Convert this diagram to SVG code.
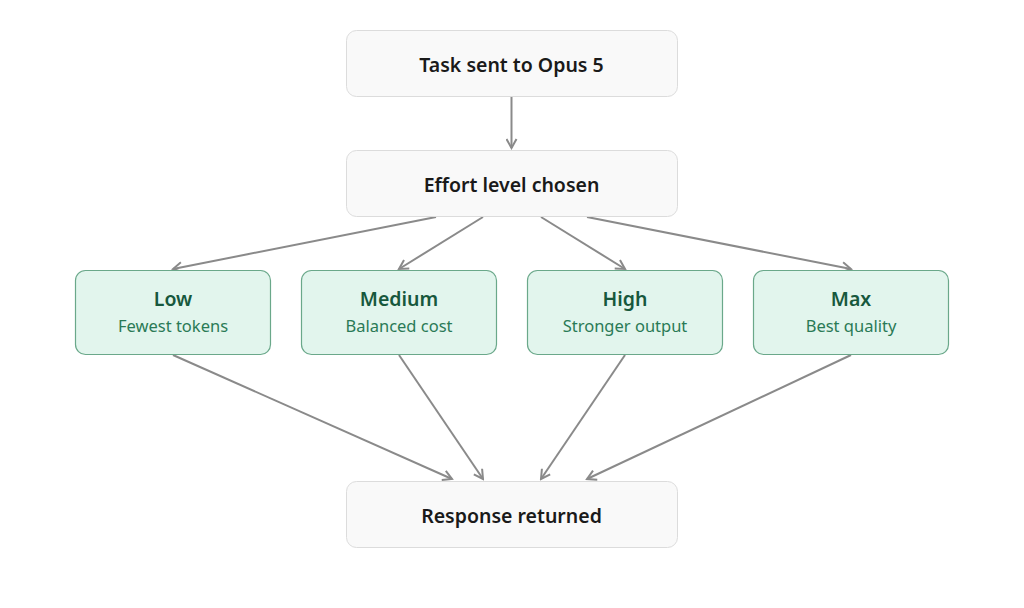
<svg xmlns="http://www.w3.org/2000/svg" width="1024" height="608" viewBox="0 0 1024 608">
<style>
.gbox{fill:#f9f9f9;stroke:#dcdcdc;stroke-width:1}
.lbox{fill:#e2f5ed;stroke:#6aa88a;stroke-width:1.2}
.main{font-family:"Noto Sans","Open Sans",sans-serif;font-size:19.5px;font-weight:600;fill:#1a1a1a;text-anchor:middle}
.title{font-family:"Noto Sans","Open Sans",sans-serif;font-size:19.5px;font-weight:600;fill:#17583d;text-anchor:middle}
.sub{font-family:"Noto Sans","Open Sans",sans-serif;font-size:16.5px;fill:#2a7a56;text-anchor:middle}
.edge{stroke:#8a8a8a;stroke-width:2;fill:none;marker-end:url(#arr)}
</style>
<defs>
<marker id="arr" viewBox="0 0 12 12" refX="10" refY="6" markerWidth="12" markerHeight="12" markerUnits="userSpaceOnUse" orient="auto">
<path d="M1,1 L10,6 L1,11" fill="none" stroke="#8a8a8a" stroke-width="2"/>
</marker>
</defs>
<rect width="1024" height="608" fill="#ffffff"/>
<g id="connectors">
<line class="edge" x1="511.5" y1="97" x2="511.5" y2="148"/>
<line class="edge" x1="436" y1="217" x2="173" y2="269"/>
<line class="edge" x1="483" y1="217" x2="399" y2="269"/>
<line class="edge" x1="541" y1="217" x2="625" y2="269"/>
<line class="edge" x1="587" y1="217" x2="851" y2="269"/>
<line class="edge" x1="173" y1="355" x2="452" y2="479"/>
<line class="edge" x1="399" y1="355" x2="483" y2="479"/>
<line class="edge" x1="625" y1="355" x2="541" y2="479"/>
<line class="edge" x1="851" y1="355" x2="587" y2="479"/>
</g>
<g id="task">
<rect class="gbox" x="346.5" y="30.5" width="331" height="66" rx="10"/>
<text class="main" x="511.5" y="71.5">Task sent to Opus 5</text>
</g>
<g id="effort">
<rect class="gbox" x="346.5" y="150.5" width="331" height="66" rx="10"/>
<text class="main" x="511.5" y="191.5">Effort level chosen</text>
</g>
<g id="low">
<rect class="lbox" x="75.5" y="270.5" width="195" height="84" rx="10"/>
<text class="title" x="173" y="306">Low</text>
<text class="sub" x="173" y="332">Fewest tokens</text>
</g>
<g id="medium">
<rect class="lbox" x="301.5" y="270.5" width="195" height="84" rx="10"/>
<text class="title" x="399" y="306">Medium</text>
<text class="sub" x="399" y="332">Balanced cost</text>
</g>
<g id="high">
<rect class="lbox" x="527.5" y="270.5" width="195" height="84" rx="10"/>
<text class="title" x="625" y="306">High</text>
<text class="sub" x="625" y="332">Stronger output</text>
</g>
<g id="max">
<rect class="lbox" x="753.5" y="270.5" width="195" height="84" rx="10"/>
<text class="title" x="851" y="306">Max</text>
<text class="sub" x="851" y="332">Best quality</text>
</g>
<g id="response">
<rect class="gbox" x="346.5" y="481.5" width="331" height="66" rx="10"/>
<text class="main" x="511.5" y="522.5">Response returned</text>
</g>
</svg>
